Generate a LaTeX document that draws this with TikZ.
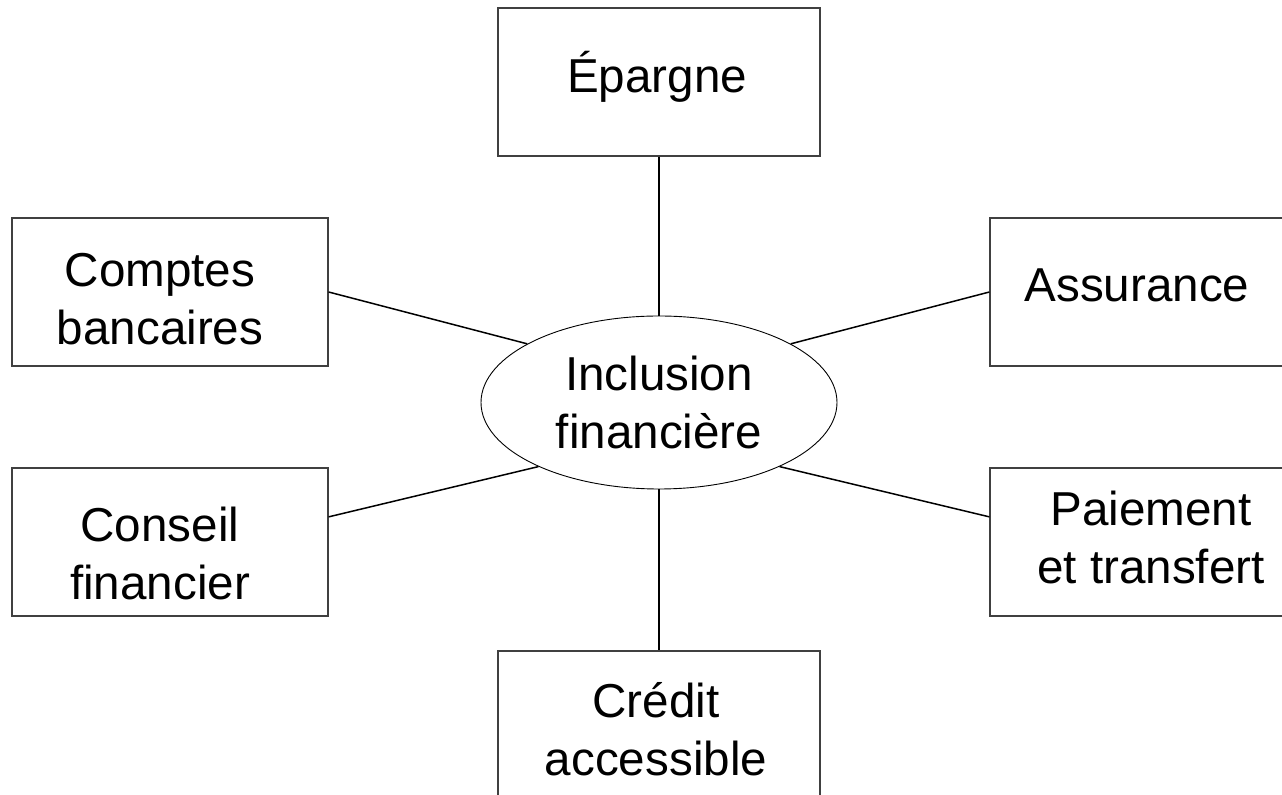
\documentclass[tikz,border=0pt]{standalone}
\usepackage{fontspec}
\setmainfont{Liberation Sans}
\usepackage{tikz}
\usetikzlibrary{shapes.geometric}
\tikzset{
    boxnode/.style={
        draw=black!75,
        line width=0.6pt,
        rectangle,
        minimum width=158pt,
        minimum height=74pt,
        inner sep=0pt
    },
    widebox/.style={
        boxnode,
        minimum width=161pt
    },
    hubnode/.style={
        draw,
        ellipse,
        line width=0.45pt,
        minimum width=178pt,
        minimum height=86.5pt,
        inner sep=0pt
    },
    link/.style={
        draw,
        line width=0.75pt
    },
    every node/.style={
        align=center,
        font=\fontsize{23.8}{29}\selectfont
    }
}
\begin{document}
\begin{tikzpicture}[x=0.5pt, y=-0.5pt]
\useasboundingbox (0,0) rectangle (1282,795);

\node[hubnode] (incl) at (659,402.5) {Inclusion\\financière};

\node[widebox, label={[shift={(-2,-5)}]center:{Épargne}}] (epargne) at (659,82) {};
\node[boxnode, label={[shift={(-10,7)}]center:{Comptes\\bancaires}}] (comptes) at (170,292) {};
\node[boxnode, label={[shift={(-11,-7)}]center:{Assurance}}] (assur) at (1148,292) {};
\node[boxnode, label={[shift={(-10,11)}]center:{Conseil\\financier}}] (conseil) at (170,542) {};
\node[boxnode, label={[shift={(3,-5)}]center:{Paiement\\et transfert}}] (paiement) at (1148,542) {};
\node[widebox, label={[shift={(-3,4)}]center:{Crédit\\accessible}}] (credit) at (659,725) {};

\draw[link] (epargne.south) -- (incl.north);
\draw[link] (comptes.east) -- (incl.156);
\draw[link] (assur.west) -- (incl.24);
\draw[link] (conseil.9) -- (incl.208);
\draw[link] (paiement.171) -- (incl.332);
\draw[link] (incl.south) -- (credit.north);
\end{tikzpicture}
\end{document}
